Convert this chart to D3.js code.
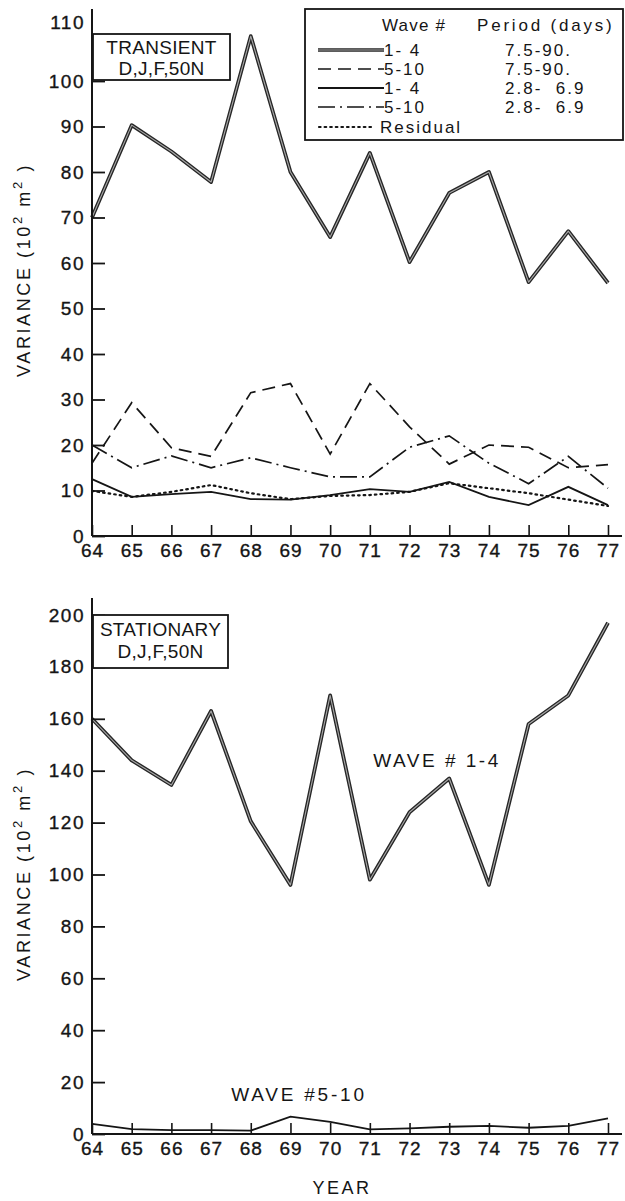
<!DOCTYPE html>
<html>
<head>
<meta charset="utf-8">
<script src="https://cdn.jsdelivr.net/npm/d3@7"></script>
<style>
  html, body { margin: 0; padding: 0; background: #fff; }
  svg { display: block; }
  text { font-family: "Liberation Sans", Arial, sans-serif; fill: #151515; }
</style>
</head>
<body>
<svg id="chart" width="625" height="1201"></svg>
<script>
// Years (19xx), shared by both panels
const years = [64, 65, 66, 67, 68, 69, 70, 71, 72, 73, 74, 75, 76, 77];

// Transient variance, D,J,F at 50N (10^2 m^2)
const transientWave1to4Long  = [70, 90.3, 84.5, 77.8, 107.6, 80, 65.7, 84.2, 60.2, 75.4, 80, 55.8, 67, 55.6];
const transientWave5to10Long = [16, 29.3, 19.4, 17.5, 31.5, 33.5, 18, 33.5, 24, 15.8, 20, 19.5, 15, 15.7];
const transientWave1to4Short = [12.5, 8.6, 9.2, 9.7, 8.1, 8, 9, 10.3, 9.7, 11.9, 8.6, 6.8, 10.8, 6.8];
const transientWave5to10Short = [20, 15, 17.6, 15, 17.2, 15, 13, 13, 19.5, 22, 16, 11.5, 17.5, 10.5];
const transientResidual      = [9.9, 8.6, 9.7, 11.2, 9.4, 8.1, 8.8, 9, 9.7, 11.6, 10.5, 9.4, 8, 6.6];

// Stationary variance, D,J,F at 50N (10^2 m^2)
const stationaryWave1to4  = [160, 144, 134.5, 163, 120.5, 96, 169, 98, 124, 137, 96, 158, 169, 197];
const stationaryWave5to10 = [3.9, 1.9, 1.5, 1.5, 1.3, 6.7, 4.7, 1.8, 2.2, 2.8, 3.1, 2.4, 3.1, 6.0];

// Tick labels
const transientTicks  = [0, 10, 20, 30, 40, 50, 60, 70, 80, 90, 100, 110];
const stationaryTicks = [0, 20, 40, 60, 80, 100, 120, 140, 160, 180, 200];

// Legend rows: wave number, period
const legendWaves   = ["1- 4", "5-10", "1- 4", "5-10"];
const legendPeriods = ["7.5-90.", "7.5-90.", "2.8-  6.9", "2.8-  6.9"];

const svg = d3.select("#chart");

const x = d3.scaleLinear().domain([64, 77]).range([92, 608]);
const yTop = d3.scaleLinear().domain([0, 100, 110]).range([536, 81, 22]);
const yBot = d3.scaleLinear().domain([0, 200]).range([1134, 615]);

// line styles
const styles = {
  dashed:  { width: 1.7, dash: "13,7" },
  solid:   { width: 1.8, dash: null },
  dashdot: { width: 1.7, dash: "17,5,2,5" },
  dotted:  { width: 2.2, dash: "1.6,4" }
};

function drawSeries(g, yScale, values, style) {
  const line = d3.line().x((d, i) => x(years[i])).y(d => yScale(d));
  if (style === "double") {
    g.append("path").attr("d", line(values)).attr("fill", "none")
      .attr("stroke", "#262626").attr("stroke-width", 3.8).attr("stroke-linejoin", "round");
    g.append("path").attr("d", line(values)).attr("fill", "none")
      .attr("stroke", "#a8a8a8").attr("stroke-width", 1.1).attr("stroke-linejoin", "round");
  } else {
    const s = styles[style];
    g.append("path").attr("d", line(values)).attr("fill", "none")
      .attr("stroke", "#151515").attr("stroke-width", s.width)
      .attr("stroke-dasharray", s.dash).attr("stroke-linecap", style === "dotted" ? "round" : "butt");
  }
}

function sampleLine(g, x0, x1, yy, style) {
  if (style === "double") {
    g.append("line").attr("x1", x0).attr("x2", x1).attr("y1", yy).attr("y2", yy)
      .attr("stroke", "#262626").attr("stroke-width", 3.6);
    g.append("line").attr("x1", x0).attr("x2", x1).attr("y1", yy).attr("y2", yy)
      .attr("stroke", "#a8a8a8").attr("stroke-width", 1.1);
  } else {
    const s = styles[style];
    g.append("line").attr("x1", x0).attr("x2", x1).attr("y1", yy).attr("y2", yy)
      .attr("stroke", "#151515").attr("stroke-width", s.width)
      .attr("stroke-dasharray", s.dash).attr("stroke-linecap", style === "dotted" ? "round" : "butt");
  }
}

function drawAxes(g, yScale, ticks, yTopEnd, yLabelCenter, untickedValue) {
  const y0 = yScale(0);
  // y axis, ticks pointing into the plot
  const ya = g.append("g").attr("transform", `translate(${x(64)},0)`)
    .call(d3.axisLeft(yScale).tickValues(ticks).tickSize(-13).tickPadding(7).tickFormat(d3.format("d")));
  ya.select(".domain").remove();
  ya.selectAll(".tick line").attr("stroke", "#151515").attr("stroke-width", 1.8);
  ya.selectAll(".tick").filter(d => d === untickedValue).select("line").remove();
  ya.selectAll(".tick text").attr("font-size", 19).attr("letter-spacing", 1.5)
    .attr("font-family", "Liberation Sans, Arial, sans-serif").attr("fill", "#151515")
    .attr("stroke", "#151515").attr("stroke-width", 0.35);
  g.append("line").attr("x1", x(64)).attr("x2", x(64)).attr("y1", yTopEnd).attr("y2", y0)
    .attr("stroke", "#151515").attr("stroke-width", 2);

  // x axis, ticks pointing up
  const xa = g.append("g").attr("transform", `translate(0,${y0})`)
    .call(d3.axisBottom(x).tickValues(years).tickSize(-11).tickPadding(8).tickFormat(d3.format("d")));
  xa.select(".domain").remove();
  xa.selectAll(".tick line").attr("stroke", "#151515").attr("stroke-width", 1.6);
  xa.selectAll(".tick text").attr("font-size", 19).attr("letter-spacing", 1)
    .attr("font-family", "Liberation Sans, Arial, sans-serif").attr("fill", "#151515")
    .attr("stroke", "#151515").attr("stroke-width", 0.35);
  g.append("line").attr("x1", x(64)).attr("x2", 622).attr("y1", y0).attr("y2", y0)
    .attr("stroke", "#151515").attr("stroke-width", 2.2);

  // y axis title
  const t = g.append("text")
    .attr("transform", `translate(30,${yLabelCenter}) rotate(-90)`)
    .attr("text-anchor", "middle").attr("font-size", 18).attr("letter-spacing", 2.6);
  t.append("tspan").text("VARIANCE (10");
  t.append("tspan").attr("font-size", 13).attr("dy", -8).text("2");
  t.append("tspan").attr("dy", 8).text(" m");
  t.append("tspan").attr("font-size", 13).attr("dy", -8).text("2");
  t.append("tspan").attr("dy", 8).text(" )");
}

function titleBox(g, bx, by, bw, bh, line1, line2, base1, base2) {
  g.append("rect").attr("x", bx).attr("y", by).attr("width", bw).attr("height", bh)
    .attr("fill", "#fff").attr("stroke", "#151515").attr("stroke-width", 1.8);
  g.append("text").attr("x", bx + bw / 2).attr("y", by + base1).attr("text-anchor", "middle")
    .attr("font-size", 19).attr("letter-spacing", 0.3).text(line1);
  g.append("text").attr("x", bx + bw / 2).attr("y", by + base2).attr("text-anchor", "middle")
    .attr("font-size", 19).attr("letter-spacing", 0.3).text(line2);
}

// ---------- Transient panel ----------
const topPanel = svg.append("g");
drawSeries(topPanel, yTop, transientWave5to10Long, "dashed");
drawSeries(topPanel, yTop, transientWave5to10Short, "dashdot");
drawSeries(topPanel, yTop, transientResidual, "dotted");
drawSeries(topPanel, yTop, transientWave1to4Short, "solid");
drawSeries(topPanel, yTop, transientWave1to4Long, "double");
drawAxes(topPanel, yTop, transientTicks, 9, 270, 110);
titleBox(topPanel, 93, 34, 137, 46, "TRANSIENT", "D,J,F,50N", 20, 41);

// legend
const lg = topPanel.append("g");
lg.append("rect").attr("x", 305).attr("y", 9).attr("width", 318).attr("height", 131)
  .attr("fill", "#fff").attr("stroke", "#151515").attr("stroke-width", 1.8);
lg.append("text").attr("x", 382).attr("y", 31).attr("font-size", 17).attr("letter-spacing", 1.2).text("Wave #");
lg.append("text").attr("x", 477).attr("y", 31).attr("font-size", 17).attr("letter-spacing", 2.8).text("Period (days)");
const legendStyles = ["double", "dashed", "solid", "dashdot"];
const rowY = [50, 69, 88, 107];
legendStyles.forEach((s, i) => {
  sampleLine(lg, 318, 384, rowY[i], s);
  lg.append("text").attr("x", 384).attr("y", rowY[i] + 6).attr("font-size", 17)
    .attr("letter-spacing", 2).style("white-space", "pre").text(legendWaves[i]);
  lg.append("text").attr("x", 505).attr("y", rowY[i] + 6).attr("font-size", 17)
    .attr("letter-spacing", 2).style("white-space", "pre").text(legendPeriods[i]);
});
sampleLine(lg, 319, 373, 127, "dotted");
lg.append("text").attr("x", 380).attr("y", 133).attr("font-size", 17).attr("letter-spacing", 2).text("Residual");

// ---------- Stationary panel ----------
const bottomPanel = svg.append("g");
drawSeries(bottomPanel, yBot, stationaryWave5to10, "solid");
drawSeries(bottomPanel, yBot, stationaryWave1to4, "double");
drawAxes(bottomPanel, yBot, stationaryTicks, 598, 874, null);
titleBox(bottomPanel, 93, 615, 135, 53, "STATIONARY", "D,J,F,50N", 21, 43);
bottomPanel.append("text").attr("x", 437).attr("y", 767).attr("text-anchor", "middle")
  .attr("font-size", 19).attr("letter-spacing", 2.5).text("WAVE # 1-4");
bottomPanel.append("text").attr("x", 299).attr("y", 1101).attr("text-anchor", "middle")
  .attr("font-size", 19).attr("letter-spacing", 2.8).text("WAVE #5-10");

// x axis title
svg.append("text").attr("x", 342).attr("y", 1194).attr("text-anchor", "middle")
  .attr("font-size", 18).attr("letter-spacing", 2.5).text("YEAR");
</script>
</body>
</html>
